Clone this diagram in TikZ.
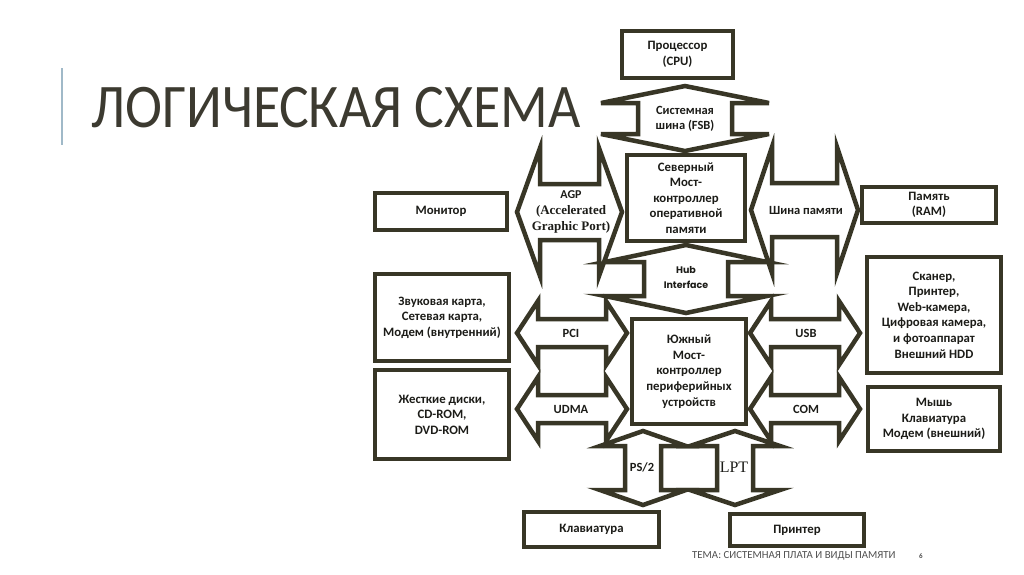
\documentclass[tikz,border=0pt]{standalone}
\usepackage{fontspec}
\usepackage{graphicx}
\setmainfont{Carlito}
\newfontfamily\tnr{Liberation Serif}
\newfontfamily\geo{Poppins}
\definecolor{bord}{RGB}{56,54,38}
\definecolor{txt}{RGB}{28,28,24}
\definecolor{titlecol}{RGB}{60,58,48}
\definecolor{accent}{RGB}{160,185,200}
\definecolor{footcol}{RGB}{80,80,80}
% horizontal double block arrow: xL, xR, cy, head length, head half-height, shaft half-height
\newcommand{\harrowshape}[6]{%
  \draw[arr] (#1,#3) -- (#1+#4,#3-#5) -- (#1+#4,#3-#6) -- (#2-#4,#3-#6) -- (#2-#4,#3-#5) -- (#2,#3)
    -- (#2-#4,#3+#5) -- (#2-#4,#3+#6) -- (#1+#4,#3+#6) -- (#1+#4,#3+#5) -- cycle;}
% vertical double block arrow: cx, yT, yB, head length, head half-width, shaft half-width
\newcommand{\varrowshape}[6]{%
  \draw[arr] (#1,#2) -- (#1+#5,#2+#4) -- (#1+#6,#2+#4) -- (#1+#6,#3-#4) -- (#1+#5,#3-#4) -- (#1,#3)
    -- (#1-#5,#3-#4) -- (#1-#6,#3-#4) -- (#1-#6,#2+#4) -- (#1-#5,#2+#4) -- cycle;}
\begin{document}
\begin{tikzpicture}[x=1pt,y=-1pt,
  box/.style={draw=bord, line width=4.5pt, fill=white, inner sep=0pt, align=center,
    font=\bfseries\fontsize{12.8}{15.6}\selectfont, text=txt},
  arr/.style={draw=bord, line width=4.5pt, line join=miter, fill=white},
  lbl/.style={font=\bfseries\fontsize{12.5}{15.5}\selectfont, text=txt, align=center, inner sep=0pt}]
\path[fill=white] (0,0) rectangle (1024,574);
\useasboundingbox (0,0) rectangle (1024,574);

% title
\draw[accent, line width=1.5pt] (62,68) -- (62,145);
\node[anchor=base west, inner sep=0pt, font=\fontsize{62}{62}\selectfont, text=titlecol] (title) at (91,127) {\scalebox{0.9}[1]{ЛОГИЧЕСКАЯ СХЕМА}};

% block arrows
\varrowshape{685}{86}{151}{17}{84}{47}
\varrowshape{686}{245}{313}{17}{81}{42}
\varrowshape{643}{431}{505}{15}{43}{18}
\varrowshape{735}{431}{505}{15}{45}{18}
\harrowshape{517}{622}{212}{23}{64}{28}
\harrowshape{751}{858}{210}{21}{63}{27}
\harrowshape{517}{627}{333}{21}{32}{14}
\harrowshape{517}{627}{409}{21}{32}{14}
\harrowshape{750}{860}{333}{21}{32}{14}
\harrowshape{750}{860}{409}{21}{32}{14}

% arrow labels
\node[lbl] (fsb) at (685,119) {Системная\\шина (FSB)};
\node[lbl, font=\bfseries\fontsize{12}{16}\selectfont] (agp) at (571,212) {AGP\\{\tnr\fontsize{13}{16}\selectfont (Accelerated}\\{\tnr\fontsize{13}{16}\selectfont Graphic Port)}};
\node[lbl] (membus) at (806,210) {Шина памяти};
\node[lbl, font=\geo\bfseries\fontsize{9.5}{15}\selectfont] (hub) at (686,278) {Hub\\Interface};
\node[lbl] (pci) at (571,333) {PCI};
\node[lbl] (udma) at (571,409) {UDMA};
\node[lbl] (usb) at (806,333) {USB};
\node[lbl] (com) at (806,409) {COM};
\node[lbl] (ps2) at (642,467) {PS/2};
\node[lbl, font=\tnr\fontsize{16}{16}\selectfont] (lpt) at (734,467) {LPT};

% boxes
\node[box, minimum width=111pt, minimum height=47pt] (cpu) at (677.5,54.5) {Процессор\\(CPU)};
\node[box, minimum width=118pt, minimum height=86pt] (nb) at (686,198) {Северный\\Мост-\\контроллер\\оперативной\\памяти};
\node[box, minimum width=114pt, minimum height=105pt] (sb) at (689,371.5) {Южный\\Мост-\\контроллер\\периферийных\\устройств};
\node[box, minimum width=132pt, minimum height=37pt] (mon) at (441,211.5) {Монитор};
\node[box, minimum width=134pt, minimum height=36pt] (ram) at (929,205) {Память\\(RAM)};
\node[box, minimum width=134pt, minimum height=87pt] (snd) at (442,317.5) {Звуковая карта,\\Сетевая карта,\\Модем (внутренний)};
\node[box, minimum width=134pt, minimum height=89pt] (hdd) at (442,414.5) {Жесткие диски,\\CD-ROM,\\DVD-ROM};
\node[box, minimum width=134pt, minimum height=116pt] (scan) at (934,315) {Сканер,\\Принтер,\\Web-камера,\\Цифровая камера,\\и фотоаппарат\\Внешний HDD};
\node[box, minimum width=132pt, minimum height=64pt] (mouse) at (934,419) {Мышь\\Клавиатура\\Модем (внешний)};
\node[box, minimum width=135pt, minimum height=35pt] (kbd) at (591.5,529.5) {Клавиатура};
\node[box, minimum width=134pt, minimum height=32pt] (prn) at (797,530) {Принтер};

% footer
\node[anchor=base west, inner sep=0pt, font=\fontsize{10.8}{10.8}\selectfont, text=footcol] (foot) at (692,558) {ТЕМА: СИСТЕМНАЯ ПЛАТА И ВИДЫ ПАМЯТИ};
\node[anchor=base, inner sep=0pt, font=\bfseries\fontsize{7}{7}\selectfont, text=footcol] (pnum) at (921,558) {6};
\end{tikzpicture}
\end{document}
